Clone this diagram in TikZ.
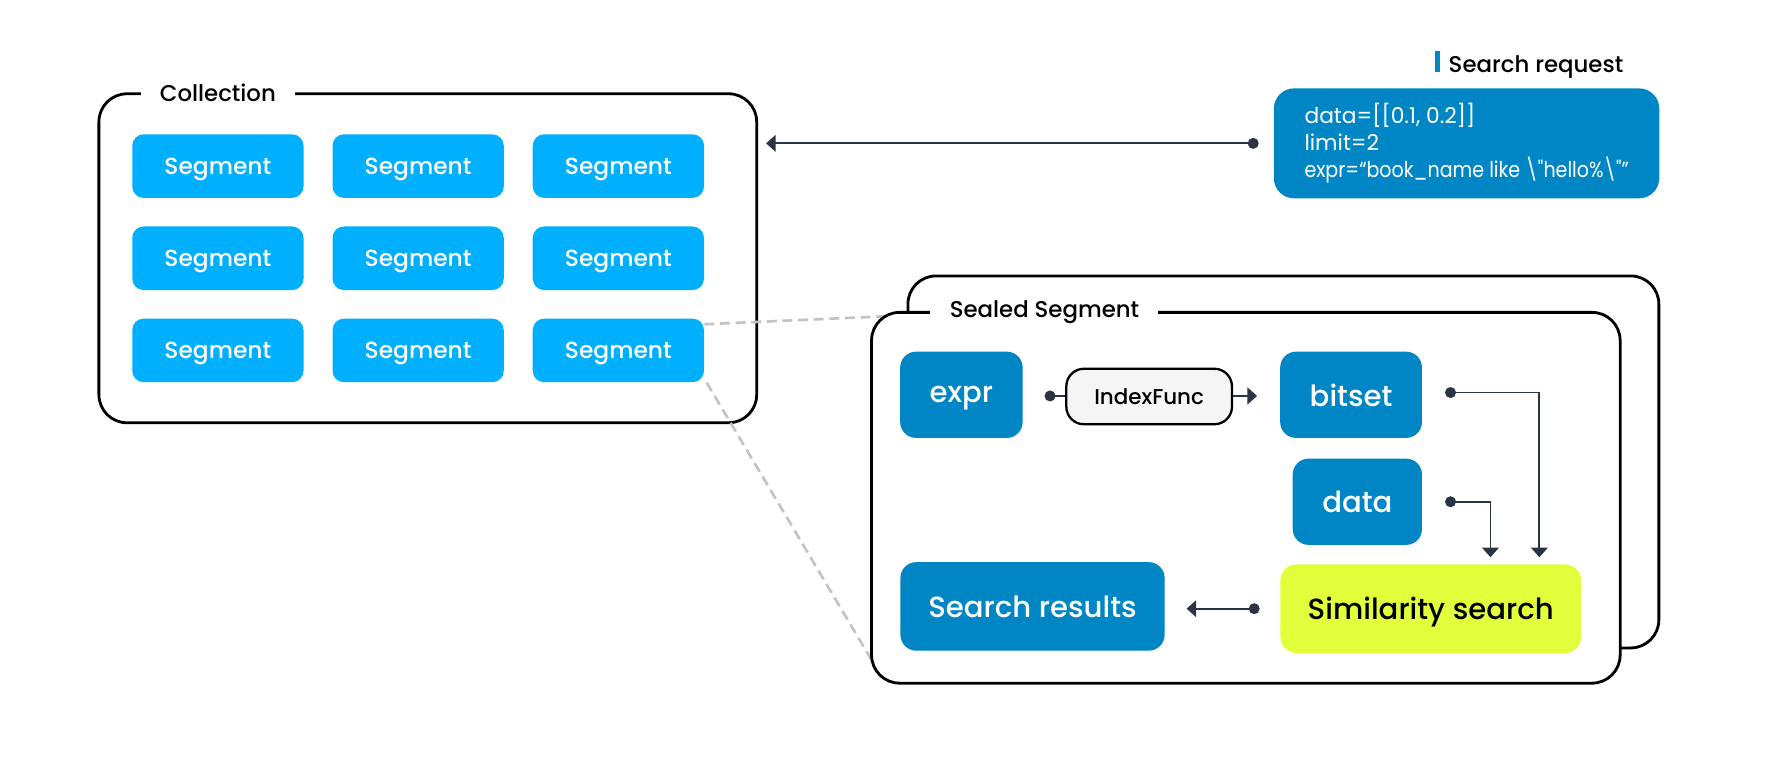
\documentclass[tikz,border=0pt]{standalone}
\usepackage{fontspec}
\usepackage{graphicx}
\IfFontExistsTF{Poppins Medium}{\setmainfont{Poppins Medium}[Ligatures=TeXOff]}{\setmainfont{Poppins}[Ligatures=TeXOff,FakeBold=0.4]}
\newfontfamily\regfont{Poppins}[Ligatures=TeXOff]
\usetikzlibrary{arrows.meta,calc}
\definecolor{segblue}{HTML}{00AFFE}
\definecolor{darkblue}{HTML}{0086C5}
\definecolor{limefill}{HTML}{E1FF3A}
\definecolor{conncol}{HTML}{2B3445}
\definecolor{dashgray}{HTML}{C2C3C8}
\definecolor{pillgray}{HTML}{F5F5F5}
\begin{document}
\begin{tikzpicture}[x=0.02276cm,y=-0.02276cm,
  seg/.style={rectangle,rounded corners=6.5pt,fill=segblue,text=white,minimum width=97.5pt,minimum height=36.2pt,font=\fontsize{13.3}{16}\selectfont,inner sep=0pt,text depth=0pt},
  dbox/.style={rectangle,rounded corners=9pt,fill=darkblue,text=white,minimum height=49.1pt,font=\fontsize{16.6}{20}\selectfont,inner sep=0pt,text depth=0pt},
  frame/.style={draw=black,line width=1.6pt,rounded corners=16pt,inner sep=0pt},
  lbl/.style={fill=white,inner xsep=11pt,inner ysep=2pt,font=\fontsize{13}{16}\selectfont},
  tip/.style={-{Triangle[length=5.5pt,width=9.5pt]}},
  conn/.style={draw=conncol,line width=1.1pt,{Circle[length=6.2pt]}-{Triangle[length=5.5pt,width=9.5pt]}},
  dashln/.style={draw=dashgray,line width=1.5pt,dash pattern=on 5.7pt off 3.2pt}
]
\useasboundingbox[fill=white] (0,0) rectangle (1568,687);

% dashed zoom lines
\coordinate (z1) at (800,277);
\coordinate (z2) at (766,580);

% Collection
\node[frame,minimum width=374.5pt,minimum height=187.3pt] (coll) at (376,227) {};
\node[lbl] (colllbl) at (191.5,82) {Collection};
\foreach \r/\yy in {1/146,2/227,3/308}{
  \foreach \c/\xx in {1/191.5,2/367.5,3/543.5}{
    \node[seg] (s\r\c) at (\xx,\yy) {Segment};
  }
}
\draw[dashln] ($(s33.east)+(0,-23)$) -- (z1);
\draw[dashln] ($(s33.south east)+(2,0)$) -- (z2);

% Search request
\fill[darkblue] (1261,45) rectangle (1266,63);
\node[anchor=west,inner sep=0pt,text depth=0pt,font=\fontsize{13}{16}\selectfont] (reqlbl) at (1273,56) {Search request};
\node[rectangle,rounded corners=11.6pt,fill=darkblue,minimum width=219.5pt,minimum height=62.6pt,inner sep=0pt] (req) at (1289,126) {};
\node[anchor=west,text=white,align=left,inner sep=0pt,font=\regfont\fontsize{12.4}{15.5}\selectfont] (reqtxt) at ($(req.west)+(27,0)$)
  {data=[[0.1, 0.2]]\\limit=2\\\resizebox{184.7pt}{\height}{expr=“book\_name like \textbackslash"hello\%\textbackslash"”}};
\draw[conn] ($(req.west)+(-13,0)$) -- ($(coll.east |- req.west)+(7,0)$);

% Sealed segment
\node[frame,fill=white,minimum width=427.5pt,minimum height=211.8pt] (sback) at (1128,406) {};
\node[frame,fill=white,minimum width=426.2pt,minimum height=211.1pt] (sfront) at (1095,437.5) {};
\node[lbl] (seallbl) at (918,274) {Sealed Segment};

\node[dbox,minimum width=69.7pt] (expr) at (845,347) {expr};
\node[rectangle,draw=black,line width=1.3pt,fill=pillgray,rounded corners=10pt,minimum width=94.3pt,minimum height=31.6pt,inner sep=0pt,text depth=0pt,font=\fontsize{12.2}{15}\selectfont] (ifunc) at (1010,348.5) {IndexFunc};
\node[dbox,minimum width=80.7pt] (bitset) at (1187.5,347) {bitset};
\node[dbox,minimum width=73.6pt] (data) at (1193,441) {data};
\node[dbox,fill=limefill,text=black,minimum width=171.1pt,minimum height=50.4pt] (sim) at (1257.5,535) {Similarity search};
\node[dbox,minimum width=150.4pt,minimum height=50.4pt] (res) at (907.5,533) {Search results};

\draw[draw=conncol,line width=1.1pt,{Circle[length=6.2pt]}-] ($(expr.east)+(19,1)$) -- ($(ifunc.west)+(0,-0.5)$);
\draw[draw=conncol,line width=1.1pt,tip] ($(ifunc.east)+(0,-0.5)$) -- ($(bitset.west)+(-20,1)$);
\draw[conn] ($(bitset.east)+(20,-2)$) -| ($(sim.north)+(95.5,-6)$);
\draw[conn] ($(data.east)+(20,0)$) -| ($(sim.north)+(52.5,-6)$);
\draw[conn] ($(sim.west)+(-18,0)$) -- ($(res.east |- sim.west)+(19,0)$);
\end{tikzpicture}
\end{document}
